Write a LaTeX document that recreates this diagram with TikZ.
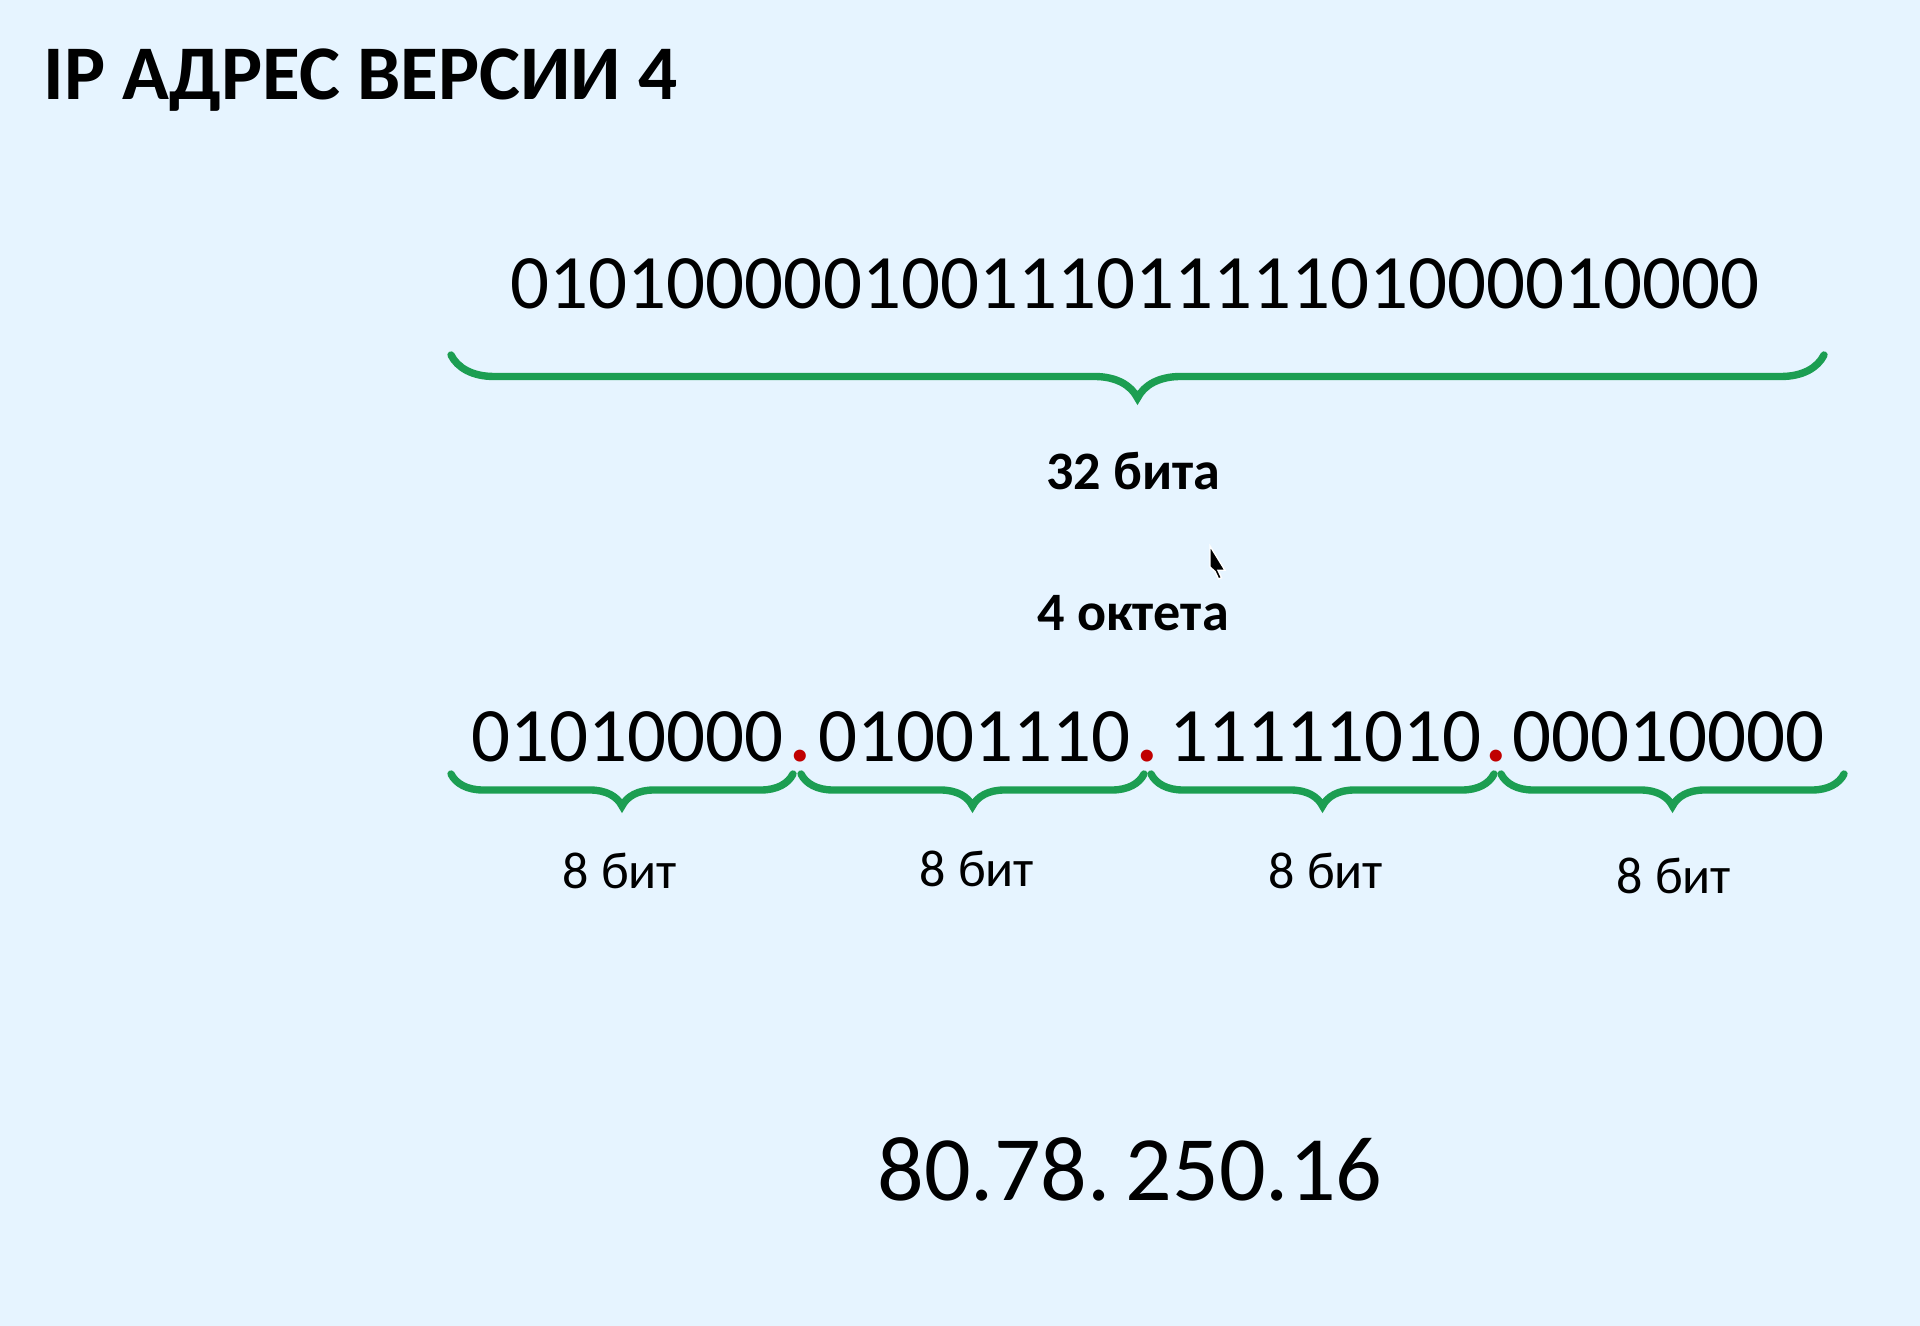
\documentclass[tikz,border=0pt]{standalone}
\usepackage{fontspec}
\setmainfont{Carlito}
\usetikzlibrary{decorations.pathreplacing}

\definecolor{bgblue}{RGB}{230,244,255}
\definecolor{bracegreen}{RGB}{28,158,82}
\definecolor{dotred}{RGB}{192,0,0}

\tikzset{
	title/.style={inner sep=0, anchor=base west, font=\fontsize{22}{26}\selectfont\bfseries},
	bits/.style={inner sep=0, font=\fontsize{21.9}{26}\selectfont},
	sep/.style={inner sep=0, anchor=base, text=dotred, font=\fontsize{23}{26}\selectfont\bfseries},
	caption/.style={inner sep=0, anchor=base, font=\fontsize{15.4}{18}\selectfont\bfseries},
	bitcount/.style={inner sep=0, anchor=base, font=\fontsize{14.8}{18}\selectfont},
	bitbrace/.style={draw=bracegreen, line width=2.1pt, line cap=round, decorate, decoration={brace, mirror, amplitude=#1}},
}

\begin{document}
\begin{tikzpicture}

	\fill[bgblue] (0,0) rectangle (19.2,-13.26);
	\useasboundingbox (0,0) rectangle (19.2,-13.26);

	\node[title] (head) at (0.43, -1.00) {IP АДРЕС ВЕРСИИ 4};

	% all 32 bits in one row
	\node[bits, anchor=base] (all) at (11.35, -3.09) {01010000010011101111101000010000};

	\coordinate (allL) at (4.51, -3.55);
	\coordinate (allR) at (18.24, -3.55);
	\draw[bitbrace=0.43cm] (allL) -- (allR);

	\node[caption] (n32) at (11.33, -4.90) {32 бита};

	% mouse pointer
	\filldraw[fill=black, draw=white, line width=0.4pt] (12.10,-5.46) -- ++(0,-0.21) -- ++(0.05,-0.045) -- ++(0.035,-0.075) -- ++(0.03,0.012) -- ++(-0.035,0.075) -- ++(0.07,0) -- cycle;

	\node[caption] (n4) at (11.33, -6.31) {4 октета};

	% octets with red dots
	\node[bits, anchor=base west] (o1) at (4.71, -7.62) {01010000};
	\node[sep] (d1) at (8.00, -7.62) {.};
	\node[bits, anchor=base west] (o2) at (8.18, -7.62) {01001110};
	\node[sep] (d2) at (11.47, -7.62) {.};
	\node[bits, anchor=base west] (o3) at (11.69, -7.62) {11111010};
	\node[sep] (d3) at (14.96, -7.62) {.};
	\node[bits, anchor=base west] (o4) at (15.12, -7.62) {00010000};

	\coordinate (b1L) at (4.51, -7.74);
	\coordinate (b1R) at (7.93, -7.74);
	\coordinate (b2L) at (8.01, -7.74);
	\coordinate (b2R) at (11.44, -7.74);
	\coordinate (b3L) at (11.51, -7.74);
	\coordinate (b3R) at (14.94, -7.74);
	\coordinate (b4L) at (15.01, -7.74);
	\coordinate (b4R) at (18.44, -7.74);

	\draw[bitbrace=0.32cm] (b1L) -- (b1R);
	\draw[bitbrace=0.32cm] (b2L) -- (b2R);
	\draw[bitbrace=0.32cm] (b3L) -- (b3R);
	\draw[bitbrace=0.32cm] (b4L) -- (b4R);

	\node[bitcount] (c1) at (6.20, -8.89) {8 бит};
	\node[bitcount] (c2) at (9.77, -8.86) {8 бит};
	\node[bitcount] (c3) at (13.26, -8.89) {8 бит};
	\node[bitcount] (c4) at (16.74, -8.93) {8 бит};

	% decimal form
	\node[inner sep=0, anchor=base, font=\fontsize{26.2}{30}\selectfont] (dec) at (11.30, -12.00) {80.78.\,250.16};

\end{tikzpicture}
\end{document}
